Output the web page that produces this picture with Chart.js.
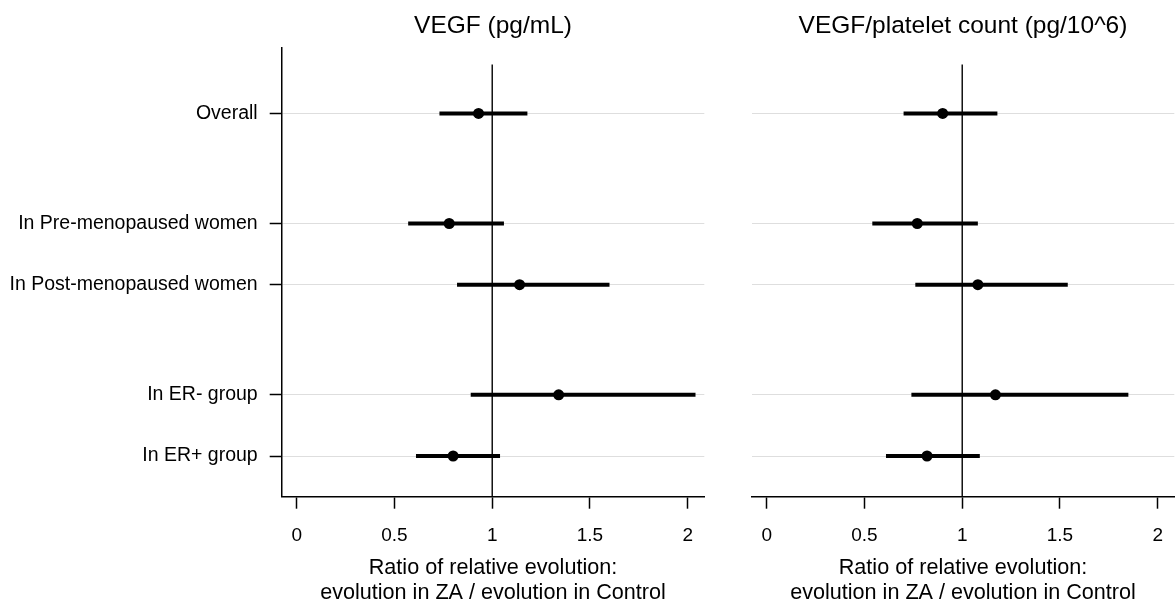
<!DOCTYPE html>
<html>
<head>
<meta charset="utf-8">
<script src="https://cdn.jsdelivr.net/npm/chart.js@4/dist/chart.umd.min.js"></script>
<style>
  html, body { margin: 0; padding: 0; background: #fff; }
  #wrap { position: relative; width: 1175px; height: 608px; overflow: hidden; }
  canvas { position: absolute; top: 0; }
</style>
</head>
<body>
<div id="wrap">
  <canvas id="leftChart" width="712" height="608" style="left:0"></canvas>
  <canvas id="rightChart" width="463" height="608" style="left:712px"></canvas>
</div>
<script>
// --- data ---
const categories = ['Overall', 'In Pre-menopaused women', 'In Post-menopaused women', 'In ER- group', 'In ER+ group'];
const rowPos = [0, 1.8, 2.8, 4.6, 5.6]; // rows, with the gaps between groups

const xTicks = [0, 0.5, 1, 1.5, 2];
const refValue = 1;

// VEGF (pg/mL)
const vegfEst = [0.93, 0.78, 1.14, 1.34, 0.80];
const vegfLow = [0.73, 0.57, 0.82, 0.89, 0.61];
const vegfHigh = [1.18, 1.06, 1.60, 2.04, 1.04];

// VEGF/platelet count (pg/10^6)
const plateletEst = [0.90, 0.77, 1.08, 1.17, 0.82];
const plateletLow = [0.70, 0.54, 0.76, 0.74, 0.61];
const plateletHigh = [1.18, 1.08, 1.54, 1.85, 1.09];

const xTitle = ['Ratio of relative evolution:', 'evolution in ZA / evolution in Control'];
const fontFamily = 'Arial, "Liberation Sans", sans-serif';

const buildDatasets = (est, low, high) => {
    const sets = [];
    // reference line at ratio = 1
    sets.push({
        type: 'line',
        data: [{ x: refValue, y: -0.8 }, { x: refValue, y: 6.3 }],
        borderColor: '#000',
        borderWidth: 1.4,
        pointRadius: 0,
        order: 3
    });
    // confidence intervals
    categories.forEach((c, i) => {
        sets.push({
            type: 'line',
            data: [{ x: low[i], y: rowPos[i] }, { x: high[i], y: rowPos[i] }],
            borderColor: '#000',
            borderWidth: 4,
            borderCapStyle: 'butt',
            pointRadius: 0,
            order: 2
        });
    });
    // point estimates
    sets.push({
        type: 'scatter',
        data: categories.map((c, i) => ({ x: est[i], y: rowPos[i] })),
        backgroundColor: '#000',
        borderWidth: 0,
        pointRadius: 5.5,
        order: 1
    });
    return sets;
};

const makeChart = (canvasId, title, est, low, high, showLabels) => {
    const ctx = document.getElementById(canvasId).getContext('2d');
    return new Chart(ctx, {
        type: 'scatter',
        data: { datasets: buildDatasets(est, low, high) },
        options: {
            responsive: false,
            animation: false,
            devicePixelRatio: 1,
            layout: {
                autoPadding: false,
                padding: showLabels ? { left: 0, right: 7.7, top: 0, bottom: 0 } : { left: 39.7, right: 0.7, top: 0, bottom: 0 }
            },
            plugins: {
                legend: { display: false },
                tooltip: { enabled: false },
                title: {
                    display: true,
                    text: title,
                    fullSize: false,
                    color: '#000',
                    font: { family: fontFamily, size: 24.5, weight: 'normal', lineHeight: 1.2 },
                    padding: { top: 11.4, bottom: 6.5 }
                }
            },
            scales: {
                x: {
                    type: 'linear',
                    min: -0.077,
                    max: 2.085,
                    afterBuildTicks: s => { s.ticks = xTicks.map(v => ({ value: v })); },
                    afterFit: s => {
                        s.height = 111.3;
                        s.paddingLeft = 0;
                        s.paddingRight = 0;
                    },
                    ticks: {
                        color: '#000',
                        padding: 15.5,
                        maxRotation: 0,
                        font: { family: fontFamily, size: 19 },
                        callback: v => String(v)
                    },
                    grid: {
                        drawOnChartArea: false,
                        drawTicks: true,
                        tickLength: 12,
                        tickColor: '#000',
                        tickWidth: 1.5
                    },
                    border: { display: true, color: '#000', width: 1.5 },
                    title: {
                        display: true,
                        text: xTitle,
                        color: '#000',
                        font: { family: fontFamily, size: 21.6, lineHeight: 25 / 21.6 },
                        padding: { top: 0, bottom: 2.8 }
                    }
                },
                y: {
                    type: 'linear',
                    reverse: true,
                    min: -1.08,
                    max: 6.265,
                    afterBuildTicks: s => { s.ticks = rowPos.map(v => ({ value: v })); },
                    afterFit: s => {
                        s.width = showLabels ? 281.7 : 0;
                        s.paddingTop = 0;
                        s.paddingBottom = 0;
                    },
                    ticks: {
                        display: showLabels,
                        color: '#000',
                        padding: 12,
                        font: { family: fontFamily, size: 19.5 },
                        callback: (v, i) => categories[i]
                    },
                    grid: {
                        color: '#dedede',
                        lineWidth: 1,
                        drawTicks: showLabels,
                        tickLength: 12,
                        tickColor: '#000',
                        tickWidth: 1.5
                    },
                    border: { display: showLabels, color: '#000', width: 1.5 }
                }
            }
        }
    });
};

makeChart('leftChart', 'VEGF (pg/mL)', vegfEst, vegfLow, vegfHigh, true);
makeChart('rightChart', 'VEGF/platelet count (pg/10^6)', plateletEst, plateletLow, plateletHigh, false);
</script>
</body>
</html>
